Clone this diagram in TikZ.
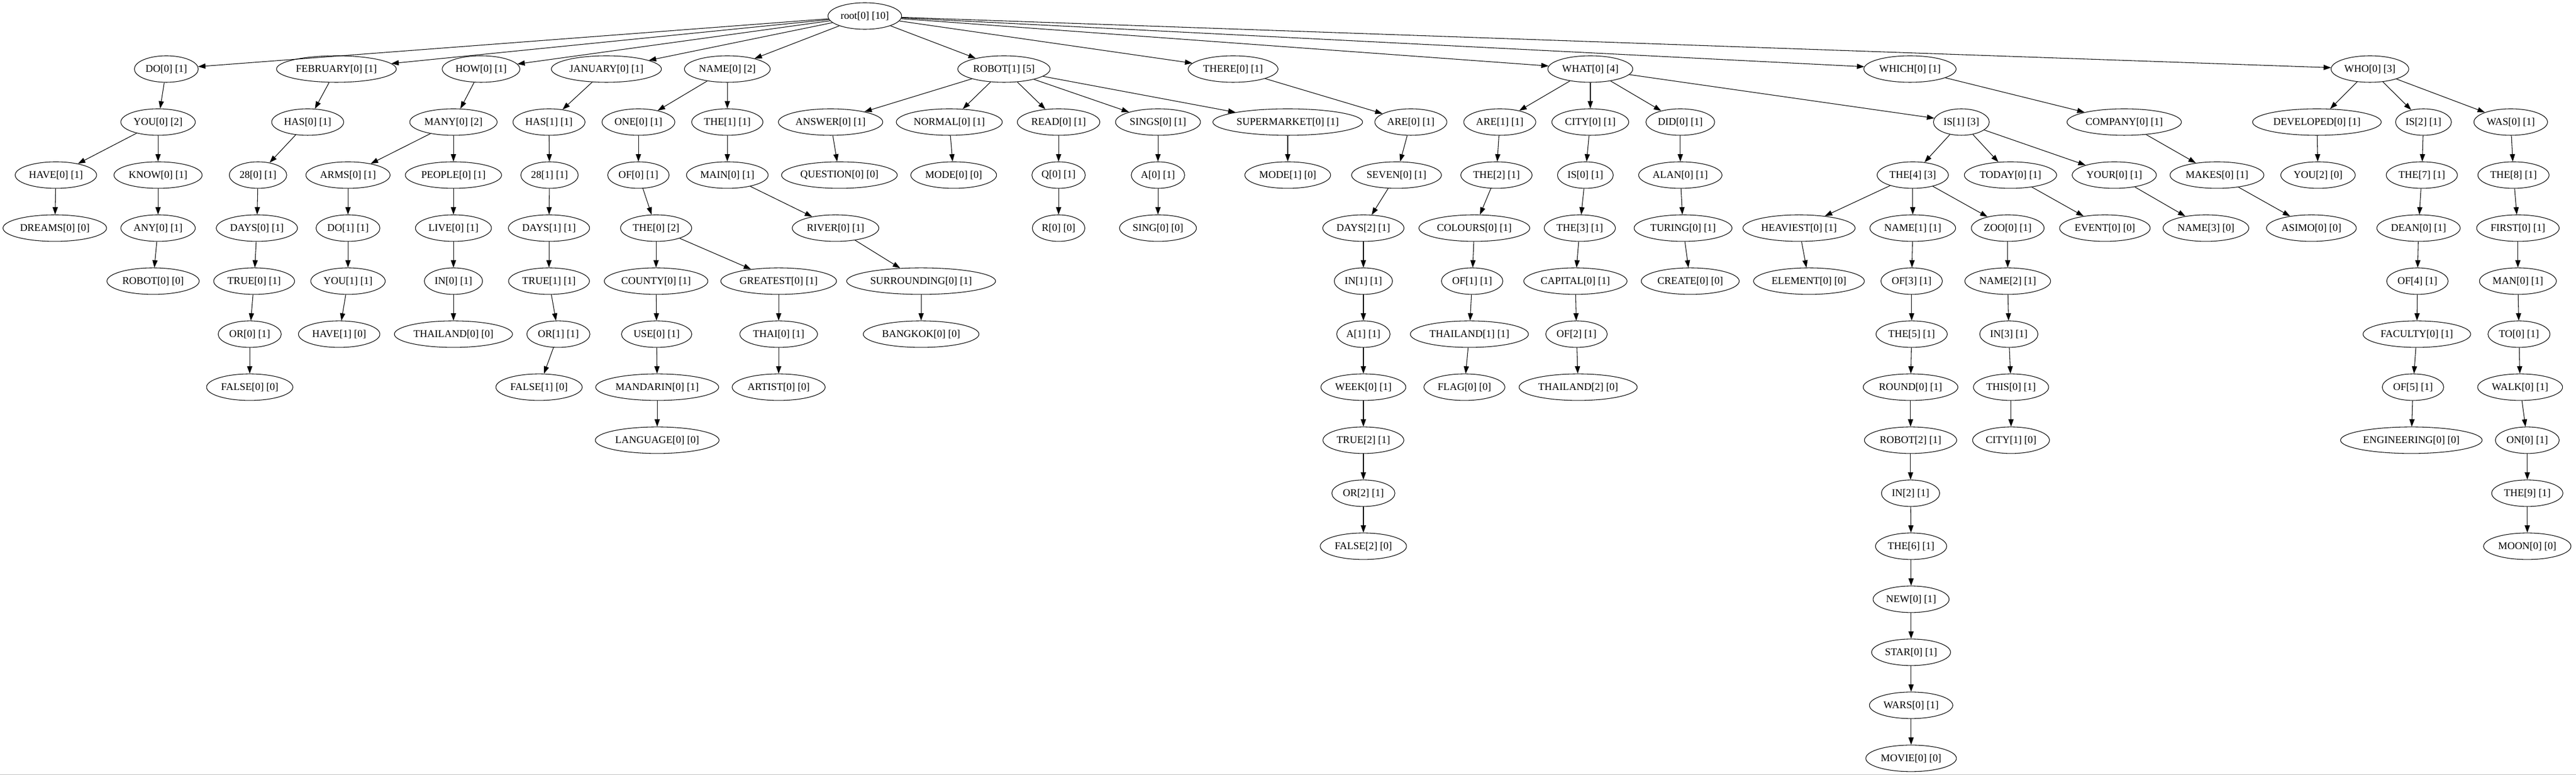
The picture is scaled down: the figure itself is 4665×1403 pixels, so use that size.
\documentclass[tikz,border=0pt]{standalone}
\usepackage{fontspec}
\setmainfont{Liberation Serif}
\usetikzlibrary{shapes.geometric,arrows.meta}
\begin{document}
\begin{tikzpicture}[x=.75pt, y=-.75pt,
                      word/.style={draw, ellipse, line width=.8pt, minimum height=36pt, inner xsep=2.5pt, inner ysep=0pt, font=\fontsize{14}{16}\selectfont},
                      link/.style={-{Triangle[length=10pt, width=7pt]}, line width=.8pt}]
                      \fill[white] (0, 0) rectangle (4665, 1403);
                      \draw[gray!50] (0, 1402) -- (4665, 1402);
                      \node[word] (root) at (1566, 29) {root[0] [10]};
                      \node[word] (do0) at (301, 125) {DO[0] [1]};
                      \node[word] (february0) at (609, 125) {FEBRUARY[0] [1]};
                      \node[word] (how0) at (871, 125) {HOW[0] [1]};
                      \node[word] (january0) at (1098, 125) {JANUARY[0] [1]};
                      \node[word] (name0) at (1317, 125) {NAME[0] [2]};
                      \node[word] (robot1) at (1818, 125) {ROBOT[1] [5]};
                      \node[word] (there0) at (2233, 125) {THERE[0] [1]};
                      \node[word] (what0) at (2880, 125) {WHAT[0] [4]};
                      \node[word] (which0) at (3459, 125) {WHICH[0] [1]};
                      \node[word] (who0) at (4292, 125) {WHO[0] [3]};
                      \node[word] (you0) at (286, 221) {YOU[0] [2]};
                      \node[word] (has0) at (557, 221) {HAS[0] [1]};
                      \node[word] (many0) at (821, 221) {MANY[0] [2]};
                      \node[word] (has1) at (994, 221) {HAS[1] [1]};
                      \node[word] (one0) at (1156, 221) {ONE[0] [1]};
                      \node[word] (the1) at (1317, 221) {THE[1] [1]};
                      \node[word] (answer0) at (1504, 221) {ANSWER[0] [1]};
                      \node[word] (normal0) at (1719, 221) {NORMAL[0] [1]};
                      \node[word] (read0) at (1917, 221) {READ[0] [1]};
                      \node[word] (sings0) at (2097, 221) {SINGS[0] [1]};
                      \node[word] (supermarket0) at (2332, 221) {SUPERMARKET[0] [1]};
                      \node[word] (are0) at (2555, 221) {ARE[0] [1]};
                      \node[word] (are1) at (2716, 221) {ARE[1] [1]};
                      \node[word] (city0) at (2880, 221) {CITY[0] [1]};
                      \node[word] (did0) at (3043, 221) {DID[0] [1]};
                      \node[word] (is1) at (3552, 221) {IS[1] [3]};
                      \node[word] (company0) at (3847, 221) {COMPANY[0] [1]};
                      \node[word] (developed0) at (4196, 221) {DEVELOPED[0] [1]};
                      \node[word] (is2) at (4389, 221) {IS[2] [1]};
                      \node[word] (was0) at (4547, 221) {WAS[0] [1]};
                      \node[word] (have0) at (101, 317) {HAVE[0] [1]};
                      \node[word] (know0) at (286, 317) {KNOW[0] [1]};
                      \node[word] (twentyeight0) at (467, 317) {28[0] [1]};
                      \node[word] (arms0) at (630, 317) {ARMS[0] [1]};
                      \node[word] (people0) at (821, 317) {PEOPLE[0] [1]};
                      \node[word] (twentyeight1) at (995, 317) {28[1] [1]};
                      \node[word] (of0) at (1156, 317) {OF[0] [1]};
                      \node[word] (main0) at (1317, 317) {MAIN[0] [1]};
                      \node[word] (question0) at (1520, 317) {QUESTION[0] [0]};
                      \node[word] (mode0) at (1727, 317) {MODE[0] [0]};
                      \node[word] (q0) at (1917, 317) {Q[0] [1]};
                      \node[word] (a0) at (2097, 317) {A[0] [1]};
                      \node[word] (mode1) at (2332, 317) {MODE[1] [0]};
                      \node[word] (seven0) at (2529, 317) {SEVEN[0] [1]};
                      \node[word] (the2) at (2710, 317) {THE[2] [1]};
                      \node[word] (is0) at (2871, 317) {IS[0] [1]};
                      \node[word] (alan0) at (3043, 317) {ALAN[0] [1]};
                      \node[word] (the4) at (3464, 317) {THE[4] [3]};
                      \node[word] (today0) at (3641, 317) {TODAY[0] [1]};
                      \node[word] (your0) at (3829, 317) {YOUR[0] [1]};
                      \node[word] (makes0) at (4015, 317) {MAKES[0] [1]};
                      \node[word] (you2) at (4198, 317) {YOU[2] [0]};
                      \node[word] (the7) at (4386, 317) {THE[7] [1]};
                      \node[word] (the8) at (4552, 317) {THE[8] [1]};
                      \node[word] (dreams0) at (99, 413) {DREAMS[0] [0]};
                      \node[word] (any0) at (286, 413) {ANY[0] [1]};
                      \node[word] (days0) at (465, 413) {DAYS[0] [1]};
                      \node[word] (do1) at (630, 413) {DO[1] [1]};
                      \node[word] (live0) at (821, 413) {LIVE[0] [1]};
                      \node[word] (days1) at (994, 413) {DAYS[1] [1]};
                      \node[word] (the0) at (1188, 413) {THE[0] [2]};
                      \node[word] (river0) at (1513, 413) {RIVER[0] [1]};
                      \node[word] (r0) at (1917, 413) {R[0] [0]};
                      \node[word] (sing0) at (2097, 413) {SING[0] [0]};
                      \node[word] (days2) at (2469, 413) {DAYS[2] [1]};
                      \node[word] (colours0) at (2670, 413) {COLOURS[0] [1]};
                      \node[word] (the3) at (2861, 413) {THE[3] [1]};
                      \node[word] (turing0) at (3048, 413) {TURING[0] [1]};
                      \node[word] (heaviest0) at (3258, 413) {HEAVIEST[0] [1]};
                      \node[word] (name1) at (3464, 413) {NAME[1] [1]};
                      \node[word] (zoo0) at (3636, 413) {ZOO[0] [1]};
                      \node[word] (event0) at (3812, 413) {EVENT[0] [0]};
                      \node[word] (name3) at (3995, 413) {NAME[3] [0]};
                      \node[word] (asimo0) at (4186, 413) {ASIMO[0] [0]};
                      \node[word] (dean0) at (4380, 413) {DEAN[0] [1]};
                      \node[word] (first0) at (4560, 413) {FIRST[0] [1]};
                      \node[word] (robot0) at (277, 509) {ROBOT[0] [0]};
                      \node[word] (true0) at (460, 509) {TRUE[0] [1]};
                      \node[word] (you1) at (630, 509) {YOU[1] [1]};
                      \node[word] (in0) at (821, 509) {IN[0] [1]};
                      \node[word] (true1) at (994, 509) {TRUE[1] [1]};
                      \node[word] (county0) at (1188, 509) {COUNTY[0] [1]};
                      \node[word] (greatest0) at (1410, 509) {GREATEST[0] [1]};
                      \node[word] (surrounding0) at (1668, 509) {SURROUNDING[0] [1]};
                      \node[word] (in1) at (2469, 509) {IN[1] [1]};
                      \node[word] (of1) at (2666, 509) {OF[1] [1]};
                      \node[word] (capital0) at (2853, 509) {CAPITAL[0] [1]};
                      \node[word] (create0) at (3061, 509) {CREATE[0] [0]};
                      \node[word] (element0) at (3276, 509) {ELEMENT[0] [0]};
                      \node[word] (of3) at (3462, 509) {OF[3] [1]};
                      \node[word] (name2) at (3636, 509) {NAME[2] [1]};
                      \node[word] (of4) at (4378, 509) {OF[4] [1]};
                      \node[word] (man0) at (4560, 509) {MAN[0] [1]};
                      \node[word] (or0) at (452, 605) {OR[0] [1]};
                      \node[word] (have1) at (614, 605) {HAVE[1] [0]};
                      \node[word] (thailand0) at (821, 605) {THAILAND[0] [0]};
                      \node[word] (or1) at (1011, 605) {OR[1] [1]};
                      \node[word] (use0) at (1189, 605) {USE[0] [1]};
                      \node[word] (thai0) at (1410, 605) {THAI[0] [1]};
                      \node[word] (bangkok0) at (1668, 605) {BANGKOK[0] [0]};
                      \node[word] (a1) at (2469, 605) {A[1] [1]};
                      \node[word] (thailand1) at (2661, 605) {THAILAND[1] [1]};
                      \node[word] (of2) at (2855, 605) {OF[2] [1]};
                      \node[word] (the5) at (3462, 605) {THE[5] [1]};
                      \node[word] (in3) at (3638, 605) {IN[3] [1]};
                      \node[word] (faculty0) at (4377, 605) {FACULTY[0] [1]};
                      \node[word] (to0) at (4562, 605) {TO[0] [1]};
                      \node[word] (false0) at (452, 701) {FALSE[0] [0]};
                      \node[word] (false1) at (976, 701) {FALSE[1] [0]};
                      \node[word] (mandarin0) at (1190, 701) {MANDARIN[0] [1]};
                      \node[word] (artist0) at (1410, 701) {ARTIST[0] [0]};
                      \node[word] (week0) at (2469, 701) {WEEK[0] [1]};
                      \node[word] (flag0) at (2652, 701) {FLAG[0] [0]};
                      \node[word] (thailand2) at (2858, 701) {THAILAND[2] [0]};
                      \node[word] (round0) at (3460, 701) {ROUND[0] [1]};
                      \node[word] (this0) at (3642, 701) {THIS[0] [1]};
                      \node[word] (of5) at (4370, 701) {OF[5] [1]};
                      \node[word] (walk0) at (4564, 701) {WALK[0] [1]};
                      \node[word] (language0) at (1190, 797) {LANGUAGE[0] [0]};
                      \node[word] (true2) at (2469, 797) {TRUE[2] [1]};
                      \node[word] (robot2) at (3460, 797) {ROBOT[2] [1]};
                      \node[word] (city1) at (3642, 797) {CITY[1] [0]};
                      \node[word] (engineering0) at (4367, 797) {ENGINEERING[0] [0]};
                      \node[word] (on0) at (4577, 797) {ON[0] [1]};
                      \node[word] (or2) at (2469, 893) {OR[2] [1]};
                      \node[word] (in2) at (3460, 893) {IN[2] [1]};
                      \node[word] (the9) at (4577, 893) {THE[9] [1]};
                      \node[word] (false2) at (2469, 989) {FALSE[2] [0]};
                      \node[word] (the6) at (3461, 989) {THE[6] [1]};
                      \node[word] (moon0) at (4577, 989) {MOON[0] [0]};
                      \node[word] (new0) at (3461, 1085) {NEW[0] [1]};
                      \node[word] (star0) at (3461, 1181) {STAR[0] [1]};
                      \node[word] (wars0) at (3461, 1277) {WARS[0] [1]};
                      \node[word] (movie0) at (3461, 1373) {MOVIE[0] [0]};
                      \draw[link] (root) -- (do0);
                      \draw[link] (root) -- (february0);
                      \draw[link] (root) -- (how0);
                      \draw[link] (root) -- (january0);
                      \draw[link] (root) -- (name0);
                      \draw[link] (root) -- (robot1);
                      \draw[link] (root) -- (there0);
                      \draw[link] (root) -- (what0);
                      \draw[link] (root) -- (which0);
                      \draw[link] (root) -- (who0);
                      \draw[link] (do0) -- (you0);
                      \draw[link] (you0) -- (have0);
                      \draw[link] (you0) -- (know0);
                      \draw[link] (have0) -- (dreams0);
                      \draw[link] (know0) -- (any0);
                      \draw[link] (any0) -- (robot0);
                      \draw[link] (february0) -- (has0);
                      \draw[link] (has0) -- (twentyeight0);
                      \draw[link] (twentyeight0) -- (days0);
                      \draw[link] (days0) -- (true0);
                      \draw[link] (true0) -- (or0);
                      \draw[link] (or0) -- (false0);
                      \draw[link] (how0) -- (many0);
                      \draw[link] (many0) -- (arms0);
                      \draw[link] (many0) -- (people0);
                      \draw[link] (arms0) -- (do1);
                      \draw[link] (do1) -- (you1);
                      \draw[link] (you1) -- (have1);
                      \draw[link] (people0) -- (live0);
                      \draw[link] (live0) -- (in0);
                      \draw[link] (in0) -- (thailand0);
                      \draw[link] (january0) -- (has1);
                      \draw[link] (has1) -- (twentyeight1);
                      \draw[link] (twentyeight1) -- (days1);
                      \draw[link] (days1) -- (true1);
                      \draw[link] (true1) -- (or1);
                      \draw[link] (or1) -- (false1);
                      \draw[link] (name0) -- (one0);
                      \draw[link] (name0) -- (the1);
                      \draw[link] (one0) -- (of0);
                      \draw[link] (of0) -- (the0);
                      \draw[link] (the0) -- (county0);
                      \draw[link] (the0) -- (greatest0);
                      \draw[link] (county0) -- (use0);
                      \draw[link] (use0) -- (mandarin0);
                      \draw[link] (mandarin0) -- (language0);
                      \draw[link] (greatest0) -- (thai0);
                      \draw[link] (thai0) -- (artist0);
                      \draw[link] (the1) -- (main0);
                      \draw[link] (main0) -- (river0);
                      \draw[link] (river0) -- (surrounding0);
                      \draw[link] (surrounding0) -- (bangkok0);
                      \draw[link] (robot1) -- (answer0);
                      \draw[link] (robot1) -- (normal0);
                      \draw[link] (robot1) -- (read0);
                      \draw[link] (robot1) -- (sings0);
                      \draw[link] (robot1) -- (supermarket0);
                      \draw[link] (answer0) -- (question0);
                      \draw[link] (normal0) -- (mode0);
                      \draw[link] (read0) -- (q0);
                      \draw[link] (q0) -- (r0);
                      \draw[link] (sings0) -- (a0);
                      \draw[link] (a0) -- (sing0);
                      \draw[link] (supermarket0) -- (mode1);
                      \draw[link] (there0) -- (are0);
                      \draw[link] (are0) -- (seven0);
                      \draw[link] (seven0) -- (days2);
                      \draw[link] (days2) -- (in1);
                      \draw[link] (in1) -- (a1);
                      \draw[link] (a1) -- (week0);
                      \draw[link] (week0) -- (true2);
                      \draw[link] (true2) -- (or2);
                      \draw[link] (or2) -- (false2);
                      \draw[link] (what0) -- (are1);
                      \draw[link] (what0) -- (city0);
                      \draw[link] (what0) -- (did0);
                      \draw[link] (what0) -- (is1);
                      \draw[link] (are1) -- (the2);
                      \draw[link] (the2) -- (colours0);
                      \draw[link] (colours0) -- (of1);
                      \draw[link] (of1) -- (thailand1);
                      \draw[link] (thailand1) -- (flag0);
                      \draw[link] (city0) -- (is0);
                      \draw[link] (is0) -- (the3);
                      \draw[link] (the3) -- (capital0);
                      \draw[link] (capital0) -- (of2);
                      \draw[link] (of2) -- (thailand2);
                      \draw[link] (did0) -- (alan0);
                      \draw[link] (alan0) -- (turing0);
                      \draw[link] (turing0) -- (create0);
                      \draw[link] (is1) -- (the4);
                      \draw[link] (is1) -- (today0);
                      \draw[link] (is1) -- (your0);
                      \draw[link] (the4) -- (heaviest0);
                      \draw[link] (the4) -- (name1);
                      \draw[link] (the4) -- (zoo0);
                      \draw[link] (heaviest0) -- (element0);
                      \draw[link] (name1) -- (of3);
                      \draw[link] (of3) -- (the5);
                      \draw[link] (the5) -- (round0);
                      \draw[link] (round0) -- (robot2);
                      \draw[link] (robot2) -- (in2);
                      \draw[link] (in2) -- (the6);
                      \draw[link] (the6) -- (new0);
                      \draw[link] (new0) -- (star0);
                      \draw[link] (star0) -- (wars0);
                      \draw[link] (wars0) -- (movie0);
                      \draw[link] (zoo0) -- (name2);
                      \draw[link] (name2) -- (in3);
                      \draw[link] (in3) -- (this0);
                      \draw[link] (this0) -- (city1);
                      \draw[link] (today0) -- (event0);
                      \draw[link] (your0) -- (name3);
                      \draw[link] (which0) -- (company0);
                      \draw[link] (company0) -- (makes0);
                      \draw[link] (makes0) -- (asimo0);
                      \draw[link] (who0) -- (developed0);
                      \draw[link] (who0) -- (is2);
                      \draw[link] (who0) -- (was0);
                      \draw[link] (developed0) -- (you2);
                      \draw[link] (is2) -- (the7);
                      \draw[link] (the7) -- (dean0);
                      \draw[link] (dean0) -- (of4);
                      \draw[link] (of4) -- (faculty0);
                      \draw[link] (faculty0) -- (of5);
                      \draw[link] (of5) -- (engineering0);
                      \draw[link] (was0) -- (the8);
                      \draw[link] (the8) -- (first0);
                      \draw[link] (first0) -- (man0);
                      \draw[link] (man0) -- (to0);
                      \draw[link] (to0) -- (walk0);
                      \draw[link] (walk0) -- (on0);
                      \draw[link] (on0) -- (the9);
                      \draw[link] (the9) -- (moon0);
                  \end{tikzpicture}
\end{document}
